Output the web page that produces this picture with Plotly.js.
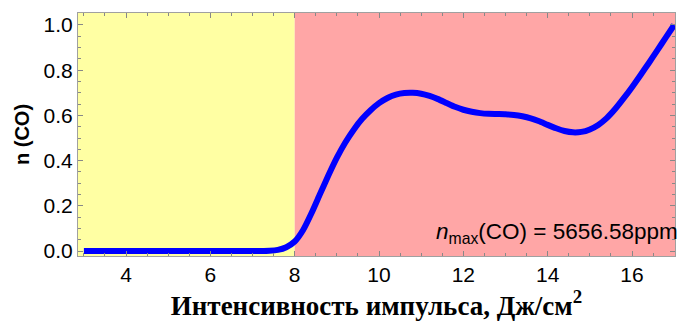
<!DOCTYPE html>
<html>
<head>
<meta charset="utf-8">
<script src="https://cdn.plot.ly/plotly-3.0.1.min.js"></script>
<style>html,body{margin:0;padding:0;background:#fff}#chart{width:679px;height:322px}</style>
</head>
<body>
<div id="chart"></div>
<script>
// Data
const intensity = [3.0, 4.0, 5.0, 6.0, 7.0, 7.2, 7.4, 7.6, 7.8, 8.0, 8.2, 8.4, 8.6, 8.8, 9.0, 9.2, 9.4, 9.6, 9.8, 10.0, 10.2, 10.4, 10.6, 10.8, 11.0, 11.2, 11.4, 11.6, 11.8, 12.0, 12.2, 12.4, 12.6, 12.8, 13.0, 13.2, 13.4, 13.6, 13.8, 14.0, 14.2, 14.4, 14.6, 14.8, 15.0, 15.2, 15.4, 15.6, 15.8, 16.0, 16.2, 16.4, 16.6, 16.8, 17.0];
const nCO = [0.0, 0.0, 0.0, 0.0, 0.0, 0.0, 0.001, 0.005, 0.017, 0.042, 0.093, 0.168, 0.252, 0.335, 0.413, 0.48, 0.537, 0.585, 0.623, 0.654, 0.677, 0.692, 0.699, 0.70, 0.696, 0.686, 0.672, 0.655, 0.638, 0.625, 0.616, 0.61, 0.607, 0.606, 0.605, 0.602, 0.596, 0.587, 0.574, 0.558, 0.543, 0.531, 0.525, 0.527, 0.538, 0.558, 0.588, 0.628, 0.675, 0.725, 0.778, 0.832, 0.888, 0.944, 1.0];
const regionEdges = [2.86, 8.0, 17.02];
const regionColors = ['#FFFFA3', '#FFA6A6'];
const xTicks = [4, 6, 8, 10, 12, 14, 16];
const yTicks = [0.0, 0.2, 0.4, 0.6, 0.8, 1.0];
const yTickText = ['0.0', '0.2', '0.4', '0.6', '0.8', '1.0'];
const xTitle = 'Интенсивность импульса, Дж/см<sup>2</sup>';
const yTitle = 'n (CO)';
const noteText = '<i>n</i><sub>max</sub>(CO) = 5656.58ppm';

const shapes = regionColors.map((c, i) => ({
  type: 'rect', xref: 'x', yref: 'paper', layer: 'below',
  x0: regionEdges[i], x1: regionEdges[i + 1], y0: 0, y1: 1,
  fillcolor: c, line: {width: 0}
}));

const trace = {
  x: intensity, y: nCO, type: 'scatter', mode: 'lines',
  line: {color: '#0000FF', width: 6, shape: 'spline', smoothing: 0.5},
  hoverinfo: 'skip'
};

const axisCommon = {
  showgrid: false, zeroline: false, showline: true, linecolor: '#A0A0A0', linewidth: 1,
  mirror: 'allticks', ticks: 'inside', ticklen: 5, tickwidth: 1, tickcolor: '#888888',
  tickfont: {family: 'Liberation Sans, Arial, sans-serif', size: 21, color: '#000'}
};

const layout = {
  width: 679, height: 322,
  margin: {l: 78, r: 4, t: 13, b: 66},
  paper_bgcolor: '#ffffff', plot_bgcolor: '#ffffff',
  showlegend: false,
  shapes: shapes,
  xaxis: Object.assign({}, axisCommon, {
    range: [regionEdges[0], regionEdges[2]],
    tickvals: xTicks, ticktext: xTicks.map(String),
    minor: {dtick: 0.5, tick0: 0, ticks: 'inside', ticklen: 3, tickcolor: '#888888', showgrid: false},
    title: {text: xTitle, standoff: 3,
      font: {family: 'Liberation Serif, Times New Roman, serif', size: 27, color: '#000', weight: 'bold'}}
  }),
  yaxis: Object.assign({}, axisCommon, {
    range: [-0.022, 1.053],
    tickvals: yTicks, ticktext: yTickText,
    minor: {dtick: 0.05, tick0: 0, ticks: 'inside', ticklen: 3, tickcolor: '#888888', showgrid: false},
    title: {text: yTitle, standoff: 8,
      font: {family: 'Liberation Sans, Arial, sans-serif', size: 20, color: '#000', weight: 'bold'}}
  }),
  annotations: [{
    text: noteText, xref: 'paper', yref: 'y', x: 1.008, y: 0.08, xanchor: 'right', yanchor: 'middle',
    showarrow: false,
    font: {family: 'Liberation Sans, Arial, sans-serif', size: 22.5, color: '#000'}
  }]
};

Plotly.newPlot('chart', [trace], layout, {displayModeBar: false, staticPlot: true});
</script>
</body>
</html>
